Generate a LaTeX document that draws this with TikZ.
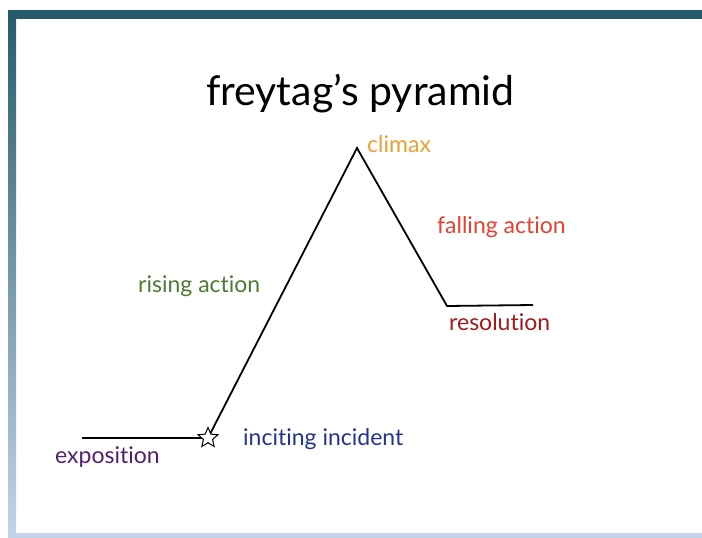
\documentclass[tikz,border=0pt]{standalone}
\usepackage{fontspec}
\setmainfont{Lato}[Ligatures=NoCommon]
\usetikzlibrary{positioning,shapes.geometric}
\definecolor{frameteal}{HTML}{255B6B}
\definecolor{framepale}{HTML}{C3D4EA}
\definecolor{climaxcol}{HTML}{E8A033}
\definecolor{fallingcol}{HTML}{E8402E}
\definecolor{risingcol}{HTML}{4E7A33}
\definecolor{resolcol}{HTML}{A11A1E}
\definecolor{incitecol}{HTML}{233392}
\definecolor{expocol}{HTML}{52206E}
\tikzstyle{stage}=[
	inner sep=0pt,
	anchor=base west,
	font=\fontsize{23}{27}\selectfont
]
\tikzstyle{plot}=[
	line width=1.8pt,
	line join=miter
]
\tikzstyle{incite}=[
	star,
	star points=5,
	star point ratio=2.2,
	minimum size=21pt,
	inner sep=0pt,
	draw,
	line width=1pt,
	fill=white
]

\begin{document}
\begin{tikzpicture}[x=1pt,y=-1pt]
\useasboundingbox (0,0) rectangle (702,538);
% frame
\fill[framepale] (8,533) rectangle (702,538);
\shade[top color=frameteal, bottom color=framepale] (8,10) rectangle (16,538);
\fill[frameteal] (8,10) rectangle (702,19);
% plot line
\coordinate (ExpoStart) at (82,438);
\coordinate (Incident) at (208,438);
\coordinate (Climax) at (357,148);
\coordinate (Resolution) at (447,306);
\coordinate (ResolEnd) at (533,305);
\draw [plot] (ExpoStart) -- (Incident) -- (Climax) -- (Resolution) -- (ResolEnd);
\node [incite] (IncidentStar) at (Incident) {};
% labels
\node [stage, font=\fontsize{41}{48}\selectfont] (Title) at (206,105) {freytag’s pyramid};
\node [stage, text=climaxcol] (ClimaxLabel) at (367,152) {climax};
\node [stage, text=fallingcol] (FallingLabel) at (437,233) {falling action};
\node [stage, text=risingcol] (RisingLabel) at (138,292) {rising action};
\node [stage, text=resolcol] (ResolLabel) at (449,330) {resolution};
\node [stage, text=incitecol] (IncidentLabel) at (243,445) {inciting incident};
\node [stage, text=expocol] (ExpoLabel) at (55,463) {exposition};
\end{tikzpicture}
\end{document}
